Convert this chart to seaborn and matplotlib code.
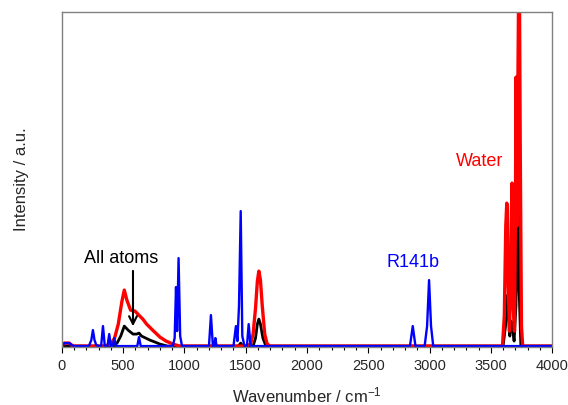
import matplotlib
matplotlib.use("Agg")
import matplotlib.pyplot as plt
from matplotlib.ticker import MultipleLocator, NullLocator
import seaborn as sns

# ---- data (intensity in arbitrary units) ----
blue_x = [0, 20, 60, 80, 100,
          220, 240, 253, 266, 280, 300,
          320, 335, 350,
          372, 386, 400,
          415, 427, 440,
          615, 629, 643,
          905, 920, 931, 940, 952, 965, 980,
          1200, 1216, 1232, 1244, 1252, 1262,
          1400, 1420, 1432, 1445, 1459, 1472, 1490, 1510, 1524, 1540,
          2840, 2863, 2885, 2960, 2980, 2996, 3012, 3030,
          4000]
blue_y = [0, 3, 3, 1, 0,
          0, 6, 16, 6, 1, 0,
          0, 20, 0,
          0, 12, 0,
          0, 8, 0,
          0, 9, 0,
          0, 8, 59, 15, 88, 10, 0,
          0, 31, 0, 0, 8, 0,
          0, 20, 5, 40, 135, 10, 0, 0, 22, 0,
          0, 20, 0, 0, 20, 66, 20, 0,
          0]

red_x = [0, 20, 60, 90, 350, 400, 430, 460, 490, 509, 530, 560, 596, 620,
         660, 691, 740, 800, 850, 906, 960,
         1500, 1540, 1560, 1580, 1595, 1607, 1620, 1635, 1655, 1675, 1700,
         3595, 3610, 3622, 3630, 3636, 3642, 3652, 3662, 3673, 3683, 3693,
         3700, 3706, 3713, 3720, 3731, 3740, 3750, 3760, 4000]
red_y = [0, 3, 3, 0, 0, 2, 8, 22, 45, 56, 46, 36, 35, 32,
         27, 22, 16, 9, 5, 2, 0,
         0, 2, 12, 38, 65, 75, 66, 40, 12, 2, 0,
         0, 30, 120, 143, 140, 60, 15, 60, 163, 40, 15,
         120, 269, 120, 250, 420, 200, 20, 0, 0]

black_x = [0, 420, 450, 480, 509, 540, 580, 610, 629, 650, 718, 760, 800, 860,
           1440, 1459, 1475,
           1560, 1580, 1595, 1607, 1620, 1640, 1665,
           3600, 3620, 3636, 3645, 3655, 3665, 3675, 3690, 3705, 3715, 3722,
           3730, 3745, 4000]
black_y = [0, 0, 3, 10, 20, 16, 12, 12, 13, 10, 6, 4, 2, 0,
           0, 3, 0,
           0, 8, 22, 27, 22, 8, 0,
           0, 20, 51, 30, 10, 25, 20, 5, 40, 100, 223,
           60, 0, 0]

x_ticks = [0, 500, 1000, 1500, 2000, 2500, 3000, 3500, 4000]
labels = {"All atoms": (482, 88, "black"),
          "R141b": (2865, 84, "#0000ff"),
          "Water": (3412, 185, "#ff0000")}

# ---- drawing ----
sns.set_style("white")
plt.rcParams["font.family"] = ["Liberation Sans", "DejaVu Sans"]
plt.rcParams["mathtext.default"] = "regular"

fig = plt.figure(figsize=(5.68, 4.05), dpi=100)
ax = fig.add_axes([0.109, 0.143, 0.863, 0.827])

sns.lineplot(x=black_x, y=black_y, ax=ax, color="black", lw=2.0,
             errorbar=None, estimator=None)
sns.lineplot(x=red_x, y=red_y, ax=ax, color="#ff0000", lw=2.4,
             errorbar=None, estimator=None)
sns.lineplot(x=blue_x, y=blue_y, ax=ax, color="#0000ff", lw=1.7,
             errorbar=None, estimator=None)

ax.set_xlim(0, 4000)
ax.set_ylim(-1, 334)
ax.set_xticks(x_ticks)
ax.set_xticklabels([str(t) for t in x_ticks], fontsize=10.5)
ax.xaxis.set_minor_locator(MultipleLocator(100))
ax.yaxis.set_major_locator(NullLocator())
ax.tick_params(axis="x", which="major", direction="out", length=4.3,
               width=0.8, color="black", pad=4, bottom=True)
ax.tick_params(axis="x", which="minor", direction="out", length=2.2,
               width=0.8, color="black", bottom=True)

for s in ax.spines.values():
    s.set_color("#808080")
    s.set_linewidth(1.0)

ax.set_xlabel("Wavenumber / cm$^{-1}$", fontsize=12, labelpad=9)
ax.set_ylabel("Intensity / a.u.", fontsize=12, labelpad=24)

for txt, (tx, ty, c) in labels.items():
    ax.text(tx, ty, txt, color=c, fontsize=13, ha="center", va="center")

ax.annotate("", xy=(580, 17), xytext=(580, 78),
            arrowprops=dict(arrowstyle="->", color="black", lw=1.5,
                            mutation_scale=14))

fig.savefig("out.png", dpi=100)
